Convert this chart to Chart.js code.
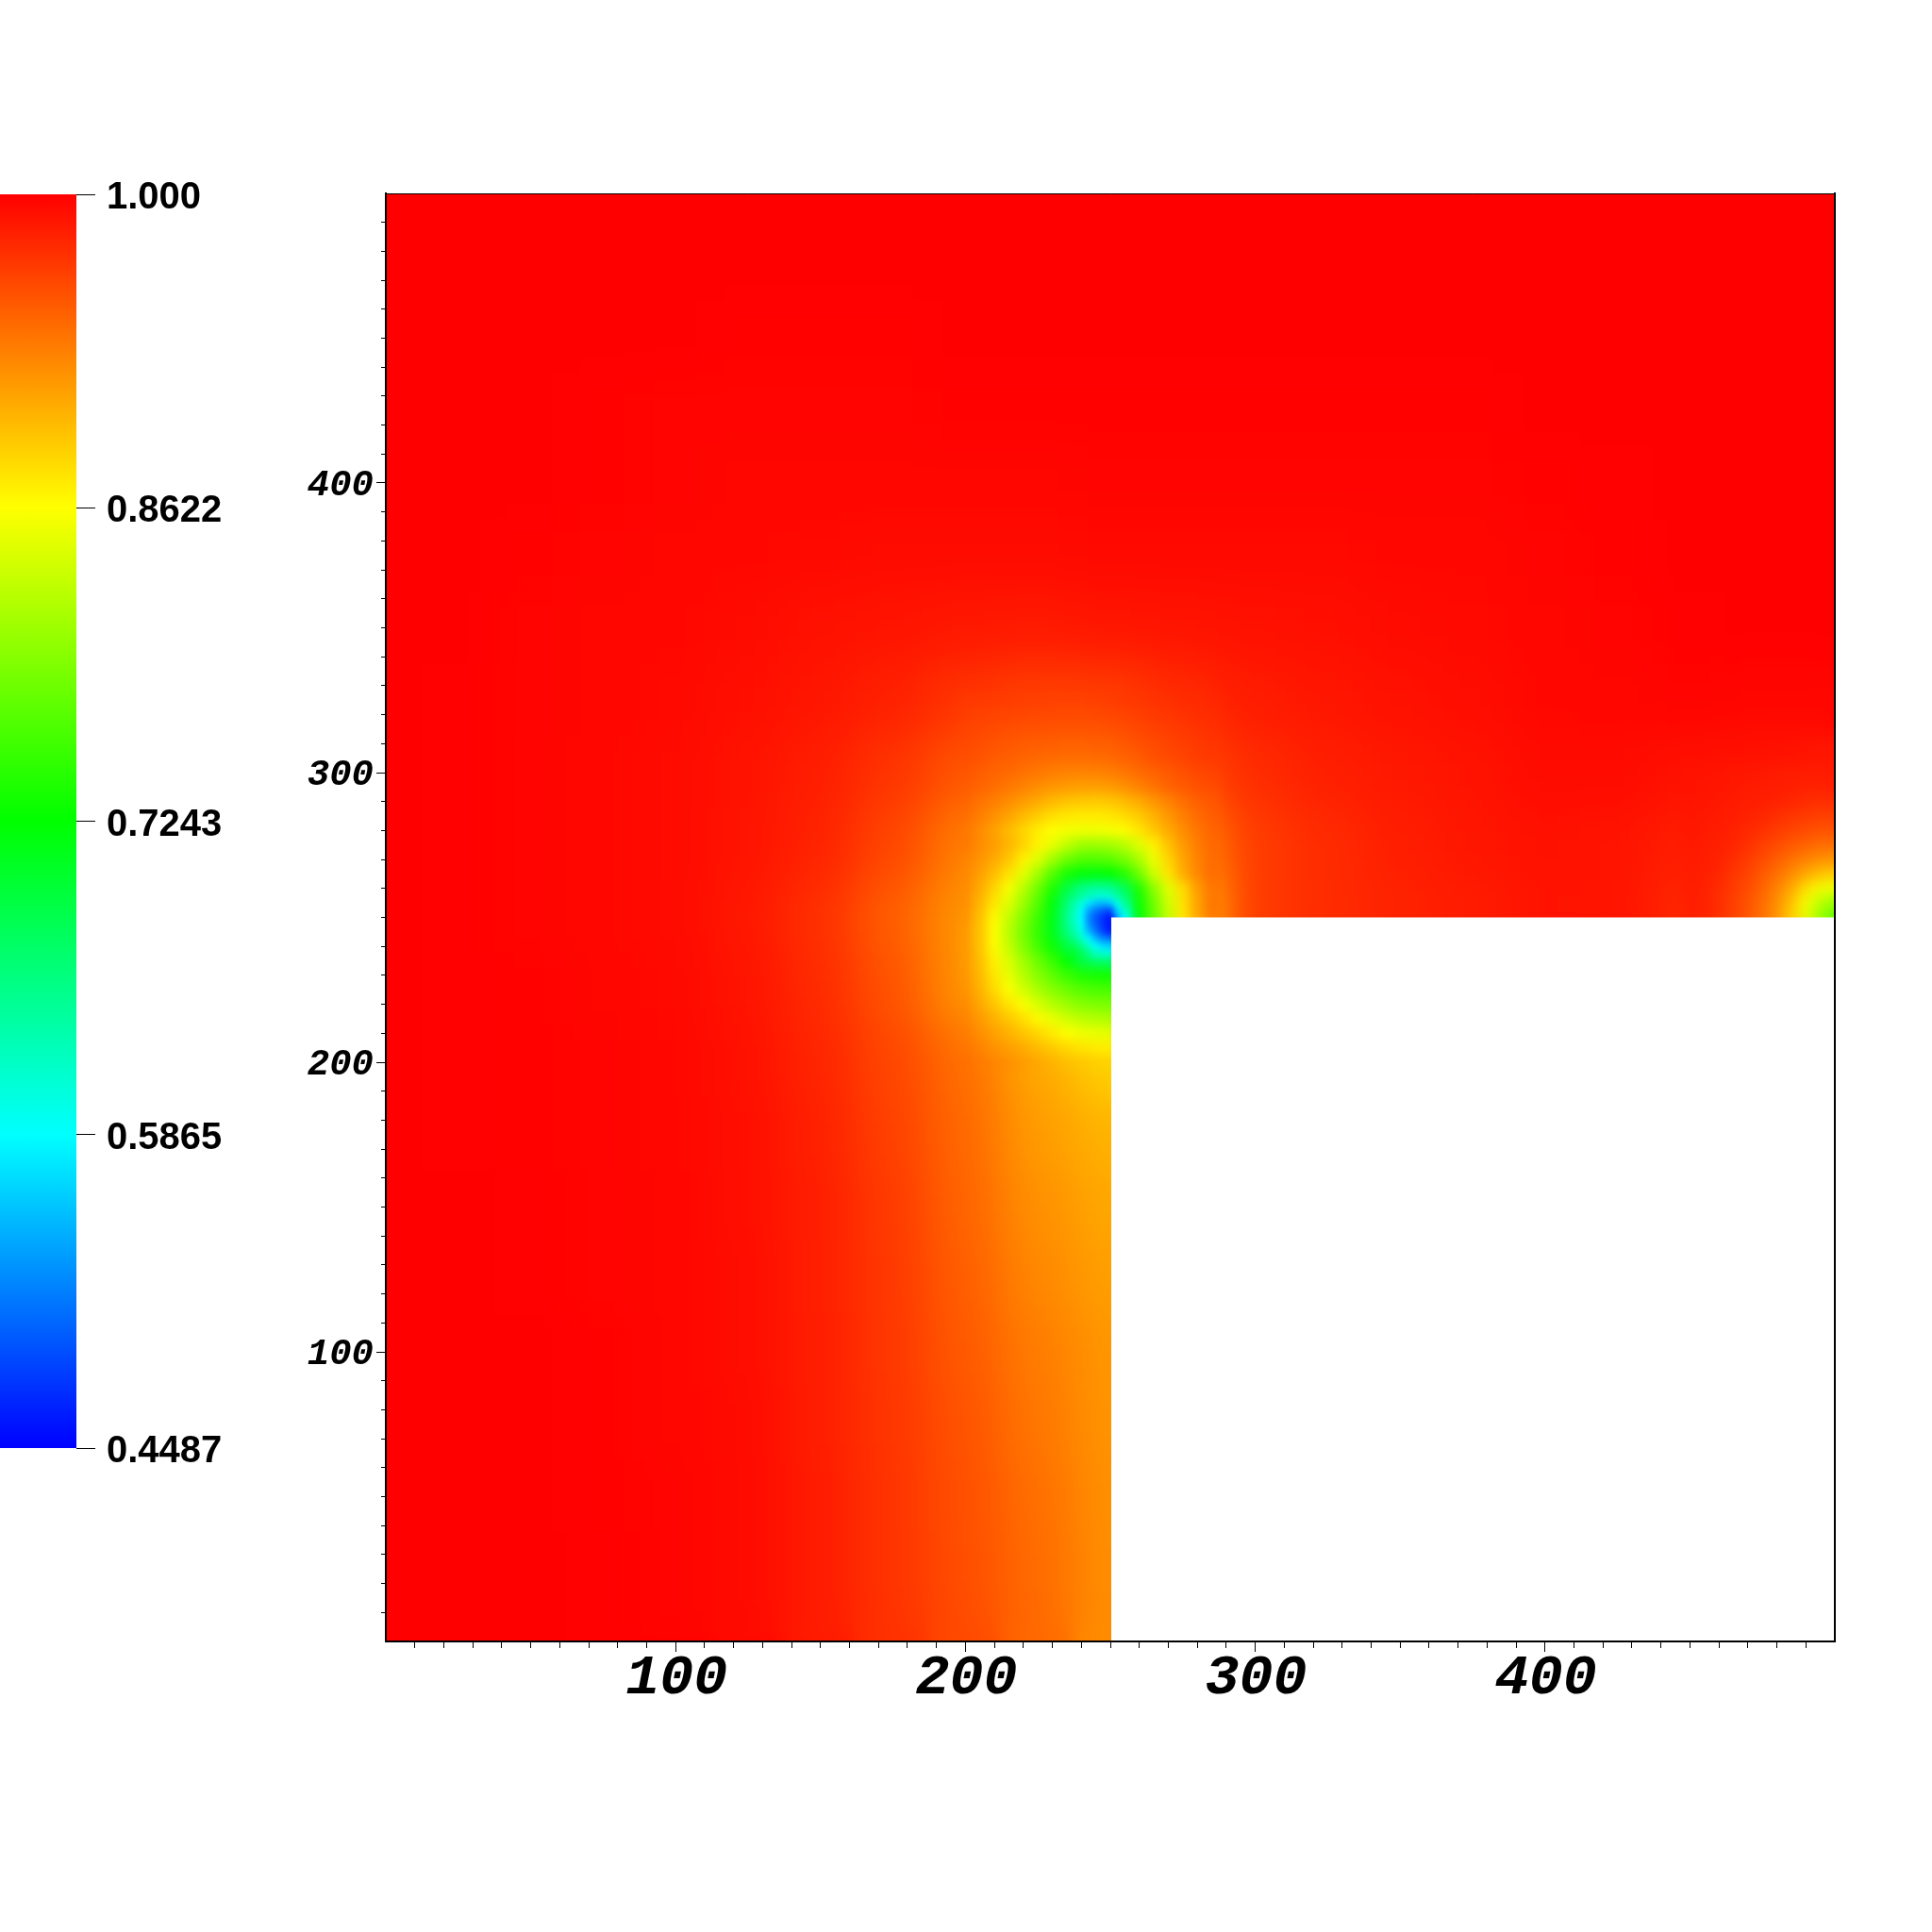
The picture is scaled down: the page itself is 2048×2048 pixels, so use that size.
<!DOCTYPE html>
<html>
<head>
<meta charset="utf-8">
<title>Field</title>
<script src="https://cdn.jsdelivr.net/npm/chart.js@4/dist/chart.umd.min.js"></script>
<style>
  body { margin: 0; background: #fff; }
  canvas { position: absolute; left: 0; top: 0; }
</style>
</head>
<body>
<canvas id="field" width="2048" height="2048"></canvas>
<canvas id="colorbar" width="281" height="2048"></canvas>
<script>
// colour bar
const barTicks = [1, 0.8622, 0.7243, 0.5865, 0.4487];
const stopValues = [0.4487, 0.5865, 0.7243, 0.8622, 1];
const stopColors = [[0, 0, 255], [0, 255, 255], [0, 255, 0], [255, 255, 0], [255, 0, 0]];

// axis labels
const axisLabels = [100, 200, 300, 400];

// values, whole field every 25 units (rows top to bottom)
const xCoarse = [0, 25, 50, 75, 100, 125, 150, 175, 200, 225, 250, 275, 300, 325, 350, 375, 400, 425, 450, 475, 500];
const yCoarse = [500, 475, 450, 425, 400, 375, 350, 325, 300, 275, 250, 225, 200, 175, 150, 125, 100, 75, 50, 25, 0];
const coarseRows = [
  [1, 1, 1, 1, 1, 1, 1, 1, 1, 1, 1, 1, 1, 1, 1, 1, 1, 1, 1, 1, 1],
  [1, 1, 1, 1, 1, 1, 1, 1, 1, 1, 1, 1, 1, 1, 1, 1, 1, 1, 1, 1, 1],
  [1, 1, 1, 1, 1, .999, .999, .999, 1, 1, 1, 1, 1, 1, 1, 1, 1, 1, 1, 1, 1],
  [1, 1, 1, .999, .998, .998, .998, .998, .999, .999, .999, .999, .999, .999, .999, .999, 1, 1, 1, 1, 1],
  [1, 1, 1, .999, .998, .997, .997, .997, .997, .997, .998, .998, .998, .998, .998, .998, .999, .9995, 1, 1, 1],
  [1, 1, .999, .998, .997, .996, .995, .994, .994, .994, .995, .995, .995, .995, .996, .996, .998, .999, 1, 1, 1],
  [1, 1, .998, .997, .996, .994, .991, .989, .987, .986, .988, .989, .991, .992, .994, .995, .997, .998, .9995, 1, 1],
  [1, .9995, .998, .997, .995, .992, .988, .982, .972, .966, .967, .977, .985, .988, .991, .993, .996, .997, .998, .997, .996],
  [1, .9995, .998, .996, .994, .990, .984, .972, .954, .925, .932, .957, .976, .983, .987, .990, .994, .994, .991, .989, .986],
  [1, .9995, .998, .996, .994, .989, .981, .962, .933, .87, .81, .916, .967, .977, .984, .988, .991, .989, .984, .973, .954],
  [1, .9995, .998, .996, .994, .987, .974, .950, .92, .757, .455, .875, .968, .976, .981, .985, .989, .989, .978, .935, .855],
  [1, .9995, .999, .997, .995, .989, .977, .955, .921, .816, .762],
  [1, .9995, .999, .998, .996, .991, .980, .962, .94, .909, .886],
  [1, .9995, .999, .998, .996, .992, .982, .965, .944, .916, .903],
  [1, 1, .9995, .998, .997, .992, .983, .968, .946, .922, .910],
  [1, 1, .9995, .998, .997, .993, .983, .969, .949, .927, .914],
  [1, 1, 1, .999, .997, .993, .984, .970, .952, .933, .919],
  [1, 1, 1, .999, .997, .994, .984, .971, .955, .936, .92],
  [1, 1, 1, .999, .998, .994, .985, .972, .957, .94, .922],
  [1, 1, 1, .9995, .998, .994, .985, .972, .958, .942, .923],
  [1, 1, 1, .9995, .998, .994, .985, .973, .96, .943, .924]
];

// around the inner corner, every 5 units
const xNear = [200, 205, 210, 215, 220, 225, 230, 235, 240, 245, 250, 255, 260, 265, 270, 275, 280, 285];
const yNear = [325, 320, 315, 310, 305, 300, 295, 290, 285, 280, 275, 270, 265, 260, 255, 250, 245, 240, 235, 230, 225, 220, 215, 210, 205, 200];
const nearRows = [
  [.970, .969, .968, .967, .966, .966, .965, .965, .965, .966, .967, .969, .971, .973, .974, .976, .977, .979],
  [.967, .965, .964, .963, .962, .961, .961, .960, .960, .961, .962, .964, .966, .969, .971, .973, .975, .976],
  [.964, .962, .960, .958, .957, .956, .955, .955, .955, .955, .957, .959, .962, .965, .967, .970, .972, .974],
  [.961, .958, .955, .953, .951, .950, .949, .948, .948, .949, .950, .953, .957, .960, .963, .966, .969, .972],
  [.958, .955, .951, .949, .946, .944, .942, .941, .941, .942, .943, .947, .951, .956, .960, .963, .967, .969],
  [.954, .950, .946, .943, .939, .935, .932, .930, .929, .930, .932, .936, .942, .947, .952, .957, .961, .964],
  [.951, .946, .941, .935, .930, .924, .919, .916, .914, .914, .916, .922, .930, .938, .946, .951, .957, .959],
  [.946, .938, .932, .924, .916, .908, .900, .894, .892, .891, .893, .899, .908, .919, .930, .940, .948, .953],
  [.941, .932, .922, .912, .900, .889, .880, .875, .873, .873, .875, .881, .891, .904, .918, .931, .942, .950],
  [.936, .925, .913, .899, .885, .872, .863, .857, .855, .855, .858, .864, .876, .892, .908, .924, .936, .946],
  [.935, .925, .915, .902, .887, .868, .850, .828, .810, .808, .812, .824, .845, .870, .895, .916, .932, .944],
  [.930, .920, .908, .893, .870, .845, .812, .785, .769, .768, .773, .789, .816, .852, .885, .911, .929, .942],
  [.927, .914, .898, .878, .848, .812, .770, .737, .720, .718, .724, .745, .785, .835, .876, .906, .927, .941],
  [.925, .908, .885, .858, .825, .785, .740, .690, .655, .640, .645, .680, .740, .800, .845, .881, .915, .937],
  [.923, .902, .875, .845, .810, .770, .720, .665, .600, .556, .560, .640, .730, .785, .835, .878, .912, .936],
  [.920, .897, .865, .830, .795, .757, .715, .650, .585, .495, .455, .586, .722, .780, .830, .875, .910, .935],
  [.918, .895, .862, .825, .788, .753, .712, .660, .605, .515, .465],
  [.918, .895, .864, .830, .795, .760, .730, .690, .640, .590, .565],
  [.918, .898, .870, .842, .812, .782, .755, .725, .690, .670, .665],
  [.919, .900, .875, .850, .823, .797, .775, .755, .740, .735, .732],
  [.921, .904, .882, .860, .838, .816, .798, .782, .770, .765, .762],
  [.925, .910, .893, .876, .860, .840, .822, .808, .797, .792, .790],
  [.929, .917, .905, .892, .879, .865, .850, .836, .826, .821, .818],
  [.933, .923, .913, .904, .894, .884, .873, .862, .854, .850, .848],
  [.937, .929, .921, .914, .907, .899, .891, .883, .877, .873, .871],
  [.940, .934, .928, .922, .916, .909, .903, .897, .892, .888, .886]
];

// the blue spot at the corner, every 2.5 units
const xCorner = [237.5, 240, 242.5, 245, 247.5, 250, 252.5, 255];
const yCorner = [257.5, 255, 252.5, 250, 247.5, 245, 242.5, 240, 237.5];
const cornerRows = [
  [.66, .64, .625, .615, .61, .615, .64, .665],
  [.635, .61, .575, .556, .55, .56, .60, .645],
  [.63, .585, .54, .515, .50, .49, .57, .62],
  [.62, .585, .525, .495, .475, .455, .54, .5865],
  [.625, .59, .53, .50, .475, .455],
  [.635, .60, .55, .515, .485, .465],
  [.655, .62, .585, .55, .525, .515],
  [.68, .655, .62, .59, .57, .565],
  [.70, .68, .655, .625, .615, .61]
];

// small spot on the right edge, every 5 units
const xRight = [450, 455, 460, 465, 470, 475, 480, 485, 490, 495, 500];
const yRight = [300, 295, 290, 285, 280, 275, 270, 265, 260, 255, 250];
const rightRows = [
  [.99, .99, .989, .988, .988, .987, .986, .985, .985, .985, .986],
  [.99, .989, .988, .987, .986, .985, .984, .983, .982, .982, .982],
  [.989, .988, .987, .986, .984, .983, .982, .98, .977, .975, .975],
  [.988, .987, .986, .984, .982, .98, .975, .971, .968, .966, .966],
  [.988, .986, .984, .982, .978, .974, .968, .964, .96, .955, .955],
  [.987, .985, .983, .98, .974, .966, .96, .952, .947, .941, .94],
  [.986, .984, .982, .975, .968, .96, .95, .94, .93, .923, .92],
  [.985, .983, .98, .971, .964, .952, .94, .925, .91, .896, .888],
  [.985, .982, .977, .968, .96, .947, .93, .91, .88, .858, .85],
  [.984, .982, .975, .966, .955, .941, .923, .896, .858, .825, .805],
  [.984, .982, .975, .966, .955, .94, .92, .888, .85, .805, .767]
];

// the empty quarter
const holeX = [250.3, 500];
const holeY = [250, 250];

const pxPerUnit = 3.072;

function valueColor(v) {
  let i = 0;
  while (i < stopValues.length - 2 && v > stopValues[i + 1]) i++;
  const t = (v - stopValues[i]) / (stopValues[i + 1] - stopValues[i]);
  const c = stopColors[i].map((a, k) => Math.round(a + (stopColors[i + 1][k] - a) * t));
  return `rgb(${c[0]},${c[1]},${c[2]})`;
}

function cellDataset(xs, ys, rows, step, blur, order) {
  const points = [];
  rows.forEach((row, j) => row.forEach((v, i) => points.push({ x: xs[i], y: ys[j], v: v })));
  return {
    type: 'scatter',
    data: points,
    pointStyle: 'rect',
    pointRadius: step * pxPerUnit * 1.03 / Math.SQRT2,
    pointBorderWidth: 0,
    pointBackgroundColor: points.map(p => valueColor(p.v)),
    blurPx: blur,
    order: order
  };
}

// softens what has been drawn so far inside the plot, so the cells read as a smooth field
const smoothCells = {
  id: 'smoothCells',
  afterDatasetDraw(chart, args) {
    const px = chart.data.datasets[args.index].blurPx;
    if (!px) return;
    const a = chart.chartArea;
    const w = a.right - a.left, h = a.bottom - a.top;
    const tmp = document.createElement('canvas');
    tmp.width = w;
    tmp.height = h;
    const t = tmp.getContext('2d');
    t.filter = `blur(${px}px)`;
    t.drawImage(chart.canvas, a.left, a.top, w, h, 0, 0, w, h);
    const ctx = chart.ctx;
    ctx.save();
    ctx.beginPath();
    ctx.rect(a.left, a.top, w, h);
    ctx.clip();
    ctx.drawImage(tmp, a.left, a.top);
    ctx.restore();
  }
};

const tickFont = size => ({ family: '"Liberation Mono"', size: size, weight: 'bold', style: 'italic' });
const isEnd = v => v === 0 || v === 500;
const axisTick = v => axisLabels.includes(v) ? String(v) : '';

function frameScale(axis, position, width) {
  return {
    type: 'linear', axis: axis, position: position, min: 0, max: 500,
    border: { display: true, color: '#000', width: width, z: 1 },
    grid: { drawOnChartArea: false, drawTicks: false },
    ticks: { display: false },
    afterFit(scale) {
      if (axis === 'x') scale.height = 0; else scale.width = 0;
    }
  };
}

new Chart(document.getElementById('field'), {
  data: {
    datasets: [
      {
        type: 'line', data: holeX.map((x, i) => ({ x: x, y: holeY[i] })),
        fill: { value: 0 }, backgroundColor: '#fff', borderWidth: 0, pointRadius: 0, order: 0
      },
      cellDataset(xCorner, yCorner, cornerRows, 2.5, 3, 1),
      cellDataset(xNear, yNear, nearRows, 5, 5, 2),
      cellDataset(xRight, yRight, rightRows, 5, 5, 3),
      cellDataset(xCoarse, yCoarse, coarseRows, 25, 24, 4)
    ]
  },
  options: {
    responsive: false,
    animation: false,
    devicePixelRatio: 1,
    layout: { padding: { left: 0, top: 205, right: 103, bottom: 0 } },
    plugins: { legend: { display: false }, tooltip: { enabled: false } },
    scales: {
      x: {
        type: 'linear', position: 'bottom', min: 0, max: 500,
        border: { color: '#000', width: 2, z: 1 },
        grid: {
          drawOnChartArea: false, tickLength: 11, tickWidth: 1,
          tickColor: c => isEnd(c.tick.value) ? 'rgba(0,0,0,0)' : '#000',
          tickBorderDash: c => c.tick.value % 100 ? [6, 40] : []
        },
        ticks: {
          stepSize: 10, autoSkip: false, maxRotation: 0, padding: -7, labelOffset: 1, color: '#000',
          font: tickFont(60), callback: axisTick
        },
        afterFit(scale) { scale.height = 308; }
      },
      y: {
        type: 'linear', position: 'left', min: 0, max: 500,
        border: { color: '#000', width: 2, z: 1 },
        grid: {
          drawOnChartArea: false, tickLength: 10, tickWidth: 1,
          tickColor: c => isEnd(c.tick.value) ? 'rgba(0,0,0,0)' : '#000',
          // left ticks are stroked from their far end, so the gap comes first on minor ones
          tickBorderDash: c => c.tick.value % 100 ? [5, 5] : [],
          tickBorderDashOffset: c => c.tick.value % 100 ? 5 : 0
        },
        ticks: {
          stepSize: 10, autoSkip: false, padding: 3, labelOffset: 3, color: '#000',
          font: tickFont(39), callback: axisTick
        },
        afterFit(scale) { scale.width = 409; }
      },
      xTop: frameScale('x', 'top', 1),
      yRight: frameScale('y', 'right', 2)
    }
  },
  plugins: [smoothCells]
});

// colour bar, a single bar with the colour ramp as its fill
const barCanvas = document.getElementById('colorbar');
const barGradient = barCanvas.getContext('2d').createLinearGradient(0, 1535, 0, 206);
stopValues.forEach((v, i) => {
  barGradient.addColorStop((v - stopValues[0]) / (1 - stopValues[0]), valueColor(v));
});

new Chart(barCanvas, {
  type: 'bar',
  data: {
    labels: [''],
    datasets: [{
      data: [[0.4487, 1]],
      backgroundColor: barGradient,
      borderWidth: 0,
      barPercentage: 1,
      categoryPercentage: 1
    }]
  },
  options: {
    responsive: false,
    animation: false,
    devicePixelRatio: 1,
    layout: { padding: { left: 0, top: 206, right: 0, bottom: 513 } },
    plugins: { legend: { display: false }, tooltip: { enabled: false } },
    scales: {
      x: { display: false },
      y: {
        position: 'right', min: 0.4487, max: 1,
        border: { display: false },
        grid: { drawOnChartArea: false, tickLength: 20, tickWidth: 1, tickColor: '#000' },
        afterBuildTicks(scale) { scale.ticks = barTicks.map(v => ({ value: v })); },
        ticks: {
          autoSkip: false, padding: 12, labelOffset: 4, color: '#000',
          font: { family: '"Liberation Sans"', size: 40, weight: 'bold' },
          callback: v => v === 1 ? '1.000' : v.toFixed(4)
        },
        afterFit(scale) { scale.width = 200; }
      }
    }
  }
});
</script>
</body>
</html>
